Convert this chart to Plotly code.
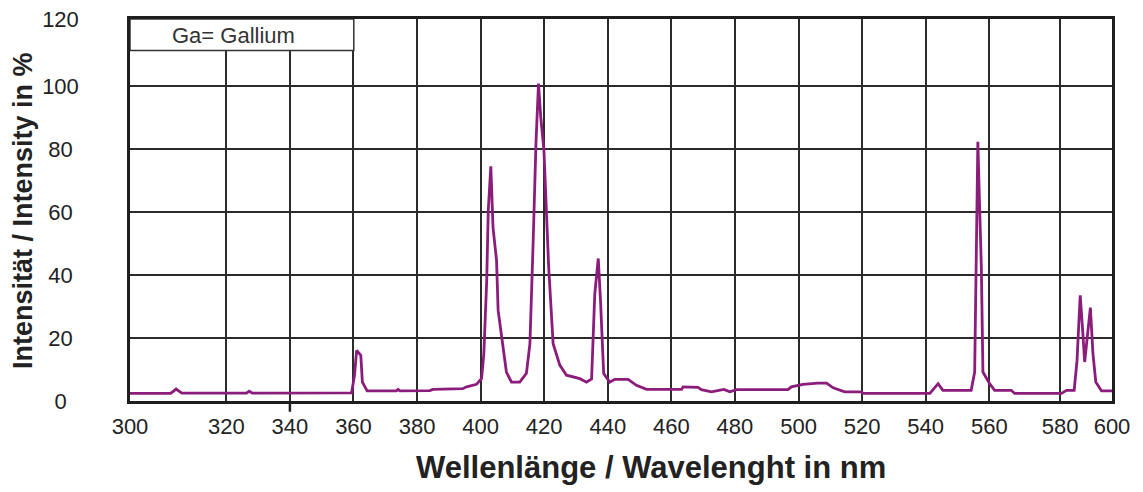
import plotly.graph_objects as go

# Spectrum (wavelength in nm on the chart's own scale, intensity in %)
wavelength = [289.7, 302.5, 304.2, 306, 326.3, 327.2, 328.2, 359.4, 360.3, 361, 362.3, 362.8,
              364.3, 373.5, 374, 374.6, 384, 385, 394.4, 395.6, 398.7, 400.3, 401, 401.9,
              402.4, 403.2, 403.9, 405, 405.5, 407, 408.1, 409.7, 412.3, 414.4, 415.5, 416.5,
              417.4, 418.2, 418.9, 419.9, 420.7, 421.4, 422.8, 424.9, 427, 431.2, 433.3,
              434.9, 435.9, 437, 437.7, 438.7, 440.6, 442.2, 446.4, 449, 452.2, 463.2, 463.7,
              468.4, 469.4, 472.6, 476.5, 478.4, 480.5, 496.7, 497.7, 501.4, 506.1, 508.8,
              510.9, 514.5, 519.8, 520.3, 541.3, 543.9, 545.4, 554.3, 555.4, 555.9, 556.4,
              556.9, 557.5, 558, 560.1, 561.7, 566.9, 568, 582.7, 584.3, 586.7, 587.6, 588.6,
              589.3, 590, 591.8, 592.6, 593.5, 595.3, 598.6]
intensity = [2.4, 2.4, 3.8, 2.5, 2.5, 3.1, 2.5, 2.6, 8, 16.1, 14.5, 6,
             3.2, 3.2, 3.7, 3.2, 3.3, 3.7, 3.9, 4.5, 5.3, 7.2, 15, 38,
             60.6, 74.6, 55, 44.7, 28.8, 18.2, 9.2, 6, 6, 8.8, 18.2, 50,
             81.8, 100.9, 90.3, 79.7, 60.6, 42.6, 18.2, 11.4, 8.2, 7.1, 6,
             7, 34, 45.3, 32, 8.7, 6, 6.9, 6.9, 5, 3.7, 3.7, 4.5,
             4.3, 3.6, 2.9, 3.7, 2.9, 3.6, 3.6, 4.5, 5.3, 5.7, 5.7,
             4.2, 2.9, 2.9, 2.4, 2.4, 5.5, 3.4, 3.4, 9.2, 47.9, 82.4,
             63.8, 42.6, 9.2, 5.5, 3.4, 3.4, 2.4, 2.4, 3.4, 3.4, 12.9, 33.6,
             23.5, 12.4, 29.7, 15.1, 6, 3.2, 3.2]

# Axis ticks
x_tick_vals = [289.7, 320, 340, 360, 380, 400, 420, 440, 460, 480, 500, 520, 540, 560, 582.3, 598.6]
x_tick_text = ["300", "320", "340", "360", "380", "400", "420", "440", "460", "480", "500",
               "520", "540", "560", "580", "600"]
y_tick_vals = [0, 20, 40, 60, 80, 100, 121.4]
y_tick_text = ["0\u00a0\u00a0", "20\u00a0", "40\u00a0", "60\u00a0", "80\u00a0", "100", "120"]

legend_label = "Ga= Gallium"
x_title = "Wellenlänge / Wavelenght in nm"
y_title = "Intensität / Intensity in %"

GRID = "#2b2b2b"
LINE = "#8c1c7c"
FONT = "Liberation Sans, Arial, sans-serif"

fig = go.Figure()
fig.add_trace(go.Scatter(x=wavelength, y=intensity, mode="lines",
                         line=dict(color=LINE, width=2.8), hoverinfo="skip",
                         showlegend=False))

# the page body adds an 8px offset, so the figure is 8px smaller and margins shifted
fig.update_layout(
    width=1135, height=484,
    margin=dict(l=122, r=31, t=11, b=91, autoexpand=False),
    paper_bgcolor="white", plot_bgcolor="white",
    font=dict(family=FONT, color="#222222", size=22),
    xaxis=dict(range=[289.7, 598.6], tickmode="array", tickvals=x_tick_vals,
               ticktext=x_tick_text, showgrid=True, gridcolor=GRID, gridwidth=2,
               showline=True, linecolor="#1e1e1e", linewidth=2.5, mirror=True,
               ticks="", ticklabelstandoff=4, zeroline=False, automargin=False,
               ticklabeloverflow="allow",
               tickfont=dict(size=22, color="#222222")),
    yaxis=dict(range=[0, 121.4], tickmode="array", tickvals=y_tick_vals,
               ticktext=y_tick_text, showgrid=True, gridcolor=GRID, gridwidth=2,
               showline=True, linecolor="#1e1e1e", linewidth=2.5, mirror=True,
               ticks="", ticklabelstandoff=44, zeroline=False, automargin=False,
               ticklabeloverflow="allow",
               tickfont=dict(size=22, color="#222222")),
)

# small tick below the axis at 340
fig.add_shape(type="line", xref="x", yref="paper", x0=340, x1=340, y0=0, y1=-0.028,
              line=dict(color="#1e1e1e", width=2.5))

# label box
fig.add_shape(type="rect", xref="x", yref="y", x0=289.7, x1=360.1, y0=111.4, y1=121.4,
              fillcolor="white", line=dict(color="#333333", width=1.5), layer="above")
fig.add_annotation(x=322.3, y=116.3, xref="x", yref="y", text=legend_label, showarrow=False,
                   font=dict(size=22, color="#333333", family=FONT))

# axis titles
fig.add_annotation(x=0.5305, y=-0.175, xref="paper", yref="paper", text="<b>" + x_title + "</b>",
                   showarrow=False, xanchor="center", yanchor="middle",
                   font=dict(size=31, color="#222222", family=FONT))
fig.add_annotation(x=-0.109, y=0.5, xref="paper", yref="paper", text="<b>" + y_title + "</b>",
                   showarrow=False, textangle=-90, xanchor="center", yanchor="middle",
                   font=dict(size=27, color="#222222", family=FONT))

fig.write_html("out.html")
